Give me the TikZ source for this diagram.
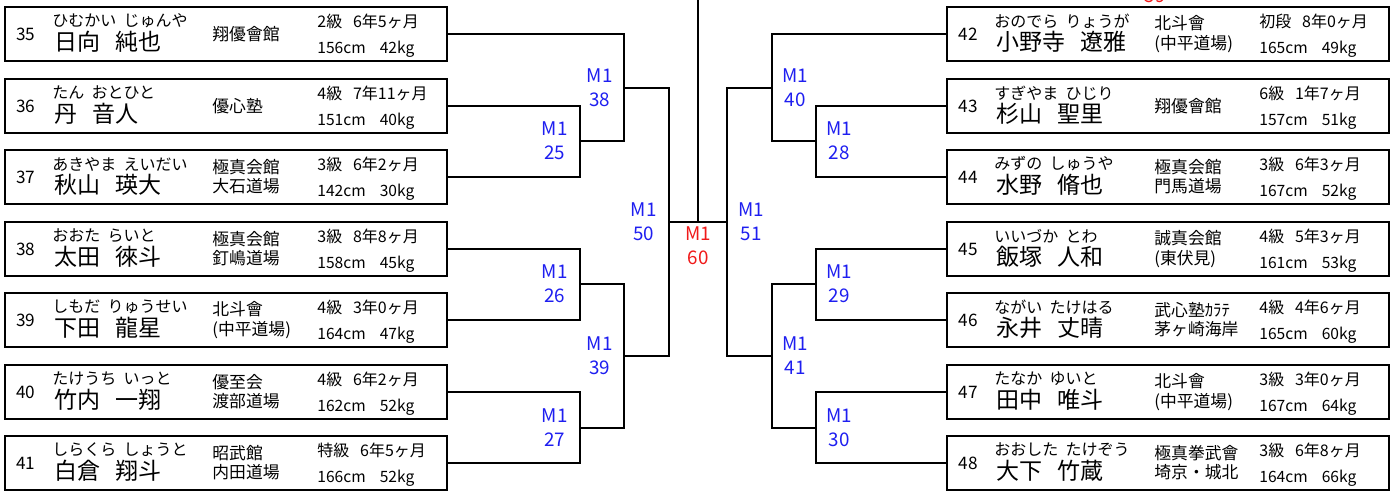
\documentclass[tikz,border=0pt]{standalone}
\usepackage{fontspec}
\setmainfont{Noto Sans CJK JP}
\usepackage{xcolor}
\usepackage{tikz}
\definecolor{mblue}{RGB}{30,30,240}
\definecolor{mred}{RGB}{240,25,25}

\begin{document}
\begin{tikzpicture}[
    x=0.5pt, y=-0.5pt,
    entry/.style={rectangle, draw, line width=1pt, minimum width=221pt, minimum height=27pt, inner sep=0pt},
    num/.style={inner sep=0pt, xshift=11pt, font=\fontsize{8.6}{9}\selectfont},
    kana/.style={anchor=west, inner sep=0pt, xshift=24pt, yshift=6.5pt, font=\fontsize{8}{9}\selectfont},
    fullname/.style={anchor=west, inner sep=0pt, xshift=25pt, yshift=-4pt, font=\fontsize{11.5}{12}\selectfont},
    dojo/.style={anchor=west, inner sep=0pt, xshift=104pt, align=left, font=\fontsize{8.4}{9.6}\selectfont},
    rank/.style={anchor=west, inner sep=0pt, xshift=156.5pt, yshift=6.5pt, font=\fontsize{8}{9}\selectfont},
    physique/.style={anchor=west, inner sep=0pt, xshift=156.5pt, yshift=-7.5pt, font=\fontsize{7.8}{9}\selectfont},
    mlab/.style={inner sep=0pt, align=center, text=mblue, font=\fontsize{9.4}{12}\selectfont},
    wire/.style={draw, line width=0.75pt}
]
    \useasboundingbox (0,0) rectangle (1397,491);
    \clip (0,0) rectangle (1397,491);

    % Left block
    \node[entry] (e35) at (226,34) {};
    \node[num] (e35a) at (e35.west) {35};
    \node[kana] (e35b) at (e35.west) {ひむかい~~じゅんや};
    \node[fullname] (e35c) at (e35.west) {日向~~~純也};
    \node[dojo] (e35d) at (e35.west) {翔優會館};
    \node[rank] (e35e) at (e35.west) {2級~~~6年5ヶ月};
    \node[physique] (e35f) at (e35.west) {156cm~~~~42kg};

    \node[entry] (e36) at (226,106) {};
    \node[num] (e36a) at (e36.west) {36};
    \node[kana] (e36b) at (e36.west) {たん~~おとひと};
    \node[fullname] (e36c) at (e36.west) {丹~~~音人};
    \node[dojo] (e36d) at (e36.west) {優心塾};
    \node[rank] (e36e) at (e36.west) {4級~~~7年11ヶ月};
    \node[physique] (e36f) at (e36.west) {151cm~~~~40kg};

    \node[entry] (e37) at (226,177) {};
    \node[num] (e37a) at (e37.west) {37};
    \node[kana] (e37b) at (e37.west) {あきやま~~えいだい};
    \node[fullname] (e37c) at (e37.west) {秋山~~~瑛大};
    \node[dojo] (e37d) at (e37.west) {極真会館\\大石道場};
    \node[rank] (e37e) at (e37.west) {3級~~~6年2ヶ月};
    \node[physique] (e37f) at (e37.west) {142cm~~~~30kg};

    \node[entry] (e38) at (226,249) {};
    \node[num] (e38a) at (e38.west) {38};
    \node[kana] (e38b) at (e38.west) {おおた~~らいと};
    \node[fullname] (e38c) at (e38.west) {太田~~~徠斗};
    \node[dojo] (e38d) at (e38.west) {極真会館\\釘嶋道場};
    \node[rank] (e38e) at (e38.west) {3級~~~8年8ヶ月};
    \node[physique] (e38f) at (e38.west) {158cm~~~~45kg};

    \node[entry] (e39) at (226,320) {};
    \node[num] (e39a) at (e39.west) {39};
    \node[kana] (e39b) at (e39.west) {しもだ~~りゅうせい};
    \node[fullname] (e39c) at (e39.west) {下田~~~龍星};
    \node[dojo] (e39d) at (e39.west) {北斗會\\(中平道場)};
    \node[rank] (e39e) at (e39.west) {4級~~~3年0ヶ月};
    \node[physique] (e39f) at (e39.west) {164cm~~~~47kg};

    \node[entry] (e40) at (226,392) {};
    \node[num] (e40a) at (e40.west) {40};
    \node[kana] (e40b) at (e40.west) {たけうち~~いっと};
    \node[fullname] (e40c) at (e40.west) {竹内~~~一翔};
    \node[dojo] (e40d) at (e40.west) {優至会\\渡部道場};
    \node[rank] (e40e) at (e40.west) {4級~~~6年2ヶ月};
    \node[physique] (e40f) at (e40.west) {162cm~~~~52kg};

    \node[entry] (e41) at (226,463) {};
    \node[num] (e41a) at (e41.west) {41};
    \node[kana] (e41b) at (e41.west) {しらくら~~しょうと};
    \node[fullname] (e41c) at (e41.west) {白倉~~~翔斗};
    \node[dojo] (e41d) at (e41.west) {昭武館\\内田道場};
    \node[rank] (e41e) at (e41.west) {特級~~~6年5ヶ月};
    \node[physique] (e41f) at (e41.west) {166cm~~~~52kg};

    % Right block
    \node[entry] (e42) at (1168,34) {};
    \node[num] (e42a) at (e42.west) {42};
    \node[kana] (e42b) at (e42.west) {おのでら~~りょうが};
    \node[fullname] (e42c) at (e42.west) {小野寺~~~遼雅};
    \node[dojo] (e42d) at (e42.west) {北斗會\\(中平道場)};
    \node[rank] (e42e) at (e42.west) {初段~~~8年0ヶ月};
    \node[physique] (e42f) at (e42.west) {165cm~~~~49kg};

    \node[entry] (e43) at (1168,106) {};
    \node[num] (e43a) at (e43.west) {43};
    \node[kana] (e43b) at (e43.west) {すぎやま~~ひじり};
    \node[fullname] (e43c) at (e43.west) {杉山~~~聖里};
    \node[dojo] (e43d) at (e43.west) {翔優會館};
    \node[rank] (e43e) at (e43.west) {6級~~~1年7ヶ月};
    \node[physique] (e43f) at (e43.west) {157cm~~~~51kg};

    \node[entry] (e44) at (1168,177) {};
    \node[num] (e44a) at (e44.west) {44};
    \node[kana] (e44b) at (e44.west) {みずの~~しゅうや};
    \node[fullname] (e44c) at (e44.west) {水野~~~脩也};
    \node[dojo] (e44d) at (e44.west) {極真会館\\門馬道場};
    \node[rank] (e44e) at (e44.west) {3級~~~6年3ヶ月};
    \node[physique] (e44f) at (e44.west) {167cm~~~~52kg};

    \node[entry] (e45) at (1168,249) {};
    \node[num] (e45a) at (e45.west) {45};
    \node[kana] (e45b) at (e45.west) {いいづか~~とわ};
    \node[fullname] (e45c) at (e45.west) {飯塚~~~人和};
    \node[dojo] (e45d) at (e45.west) {誠真会館\\(東伏見)};
    \node[rank] (e45e) at (e45.west) {4級~~~5年3ヶ月};
    \node[physique] (e45f) at (e45.west) {161cm~~~~53kg};

    \node[entry] (e46) at (1168,320) {};
    \node[num] (e46a) at (e46.west) {46};
    \node[kana] (e46b) at (e46.west) {ながい~~たけはる};
    \node[fullname] (e46c) at (e46.west) {永井~~~丈晴};
    \node[dojo] (e46d) at (e46.west) {武心塾ｶﾗﾃ\\茅ヶ崎海岸};
    \node[rank] (e46e) at (e46.west) {4級~~~4年6ヶ月};
    \node[physique] (e46f) at (e46.west) {165cm~~~~60kg};

    \node[entry] (e47) at (1168,392) {};
    \node[num] (e47a) at (e47.west) {47};
    \node[kana] (e47b) at (e47.west) {たなか~~ゆいと};
    \node[fullname] (e47c) at (e47.west) {田中~~~唯斗};
    \node[dojo] (e47d) at (e47.west) {北斗會\\(中平道場)};
    \node[rank] (e47e) at (e47.west) {3級~~~3年0ヶ月};
    \node[physique] (e47f) at (e47.west) {167cm~~~~64kg};

    \node[entry] (e48) at (1168,463) {};
    \node[num] (e48a) at (e48.west) {48};
    \node[kana] (e48b) at (e48.west) {おおした~~たけぞう};
    \node[fullname] (e48c) at (e48.west) {大下~~~竹蔵};
    \node[dojo] (e48d) at (e48.west) {極真拳武會\\埼京・城北};
    \node[rank] (e48e) at (e48.west) {3級~~~6年8ヶ月};
    \node[physique] (e48f) at (e48.west) {164cm~~~~66kg};

    % Match points
    \coordinate (m25) at (580,141);
    \coordinate (m26) at (580,284);
    \coordinate (m27) at (580,428);
    \coordinate (m38) at (624,88);
    \coordinate (m39) at (624,356);
    \coordinate (m50) at (669,222);
    \coordinate (m60) at (698,222);
    \coordinate (m51) at (727,222);
    \coordinate (m40) at (772,88);
    \coordinate (m41) at (772,356);
    \coordinate (m28) at (816,141);
    \coordinate (m29) at (816,284);
    \coordinate (m30) at (816,428);
    \coordinate (final) at (698,-10);

    % Left bracket
    \draw[wire] (e36.east) -| (m25) |- (e37.east);
    \draw[wire] (e38.east) -| (m26) |- (e39.east);
    \draw[wire] (e40.east) -| (m27) |- (e41.east);
    \draw[wire] (e35.east) -| (m38) |- (m25);
    \draw[wire] (m26) -| (m39) |- (m27);
    \draw[wire] (m38) -| (m50) |- (m39);

    % Right bracket
    \draw[wire] (e43.west) -| (m28) |- (e44.west);
    \draw[wire] (e45.west) -| (m29) |- (e46.west);
    \draw[wire] (e47.west) -| (m30) |- (e48.west);
    \draw[wire] (e42.west) -| (m40) |- (m28);
    \draw[wire] (m29) -| (m41) |- (m30);
    \draw[wire] (m40) -| (m51) |- (m41);

    % Final
    \draw[wire] (m50) -- (m51);
    \draw[wire] (m60) -- (final);

    % Match labels
    \node[mlab, anchor=east] (l25) at ([xshift=-6pt]m25) {M1\\25};
    \node[mlab, anchor=east] (l26) at ([xshift=-6pt]m26) {M1\\26};
    \node[mlab, anchor=east] (l27) at ([xshift=-6pt]m27) {M1\\27};
    \node[mlab, anchor=east] (l38) at ([xshift=-5.5pt]m38) {M1\\38};
    \node[mlab, anchor=east] (l39) at ([xshift=-5.5pt]m39) {M1\\39};
    \node[mlab, anchor=east] (l50) at ([xshift=-6pt]m50) {M1\\50};
    \node[mlab, anchor=west] (l51) at ([xshift=5.5pt]m51) {M1\\51};
    \node[mlab, anchor=west] (l40) at ([xshift=5pt]m40) {M1\\40};
    \node[mlab, anchor=west] (l41) at ([xshift=5pt]m41) {M1\\41};
    \node[mlab, anchor=west] (l28) at ([xshift=5pt]m28) {M1\\28};
    \node[mlab, anchor=west] (l29) at ([xshift=5pt]m29) {M1\\29};
    \node[mlab, anchor=west] (l30) at ([xshift=5pt]m30) {M1\\30};
    \node[mlab, text=mred] (l60) at ([yshift=-12pt]m60) {M1\\60};
    \node[mlab, text=mred] (l59) at (1155,-4) {59};
\end{tikzpicture}
\end{document}
